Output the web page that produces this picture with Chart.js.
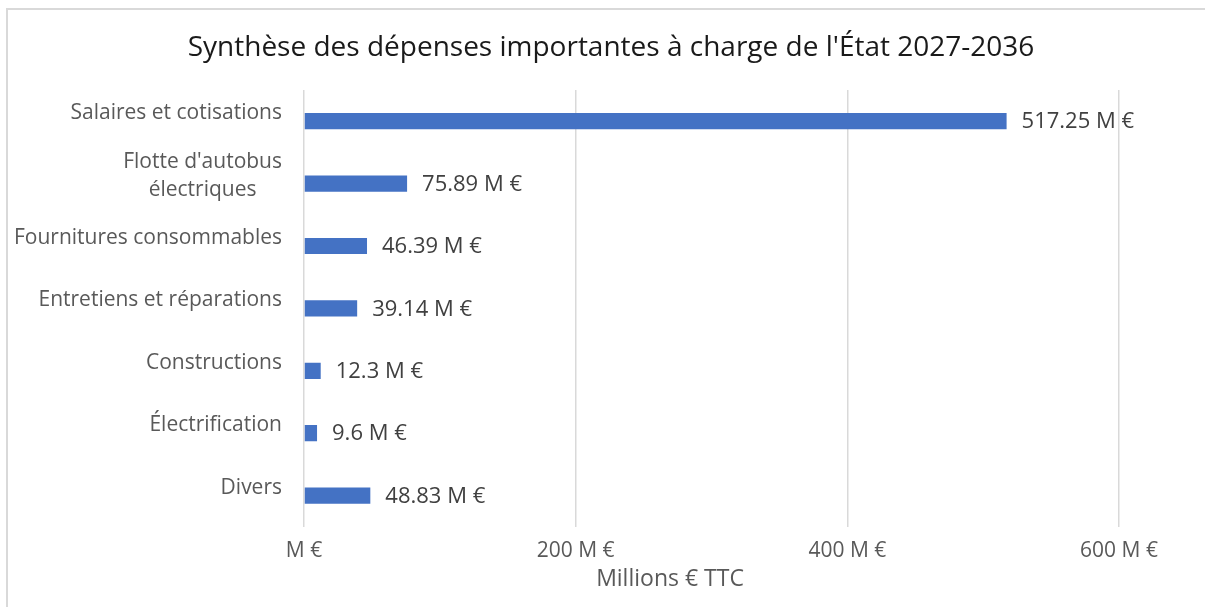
<!DOCTYPE html>
<html>
<head>
<meta charset="utf-8">
<script src="https://cdn.jsdelivr.net/npm/chart.js@4/dist/chart.umd.min.js"></script>
<style>
  html, body { margin: 0; padding: 0; background: #fff; }
  #wrap { width: 1205px; height: 607px; }
</style>
</head>
<body>
<div id="wrap"><canvas id="depensesChart" width="1205" height="607"></canvas></div>
<script>
const chartTitle = "Synthèse des dépenses importantes à charge de l'État 2027-2036";
const axisTitle = "Millions € TTC";
const categories = [
    'Salaires et cotisations',
    ["Flotte d'autobus", 'électriques'],
    'Fournitures consommables',
    'Entretiens et réparations',
    'Constructions',
    'Électrification',
    'Divers'
];
const montants = [517.25, 75.89, 46.39, 39.14, 12.3, 9.6, 48.83];
const xTicks = [0, 200, 400, 600];

const FONT = '"Open Sans", "Noto Sans", sans-serif';

// labels, title, frame drawn by hand to match the Excel look
const excelLook = {
    id: 'excelLook',
    beforeDraw(chart) {
        const ctx = chart.ctx;
        ctx.save();
        ctx.fillStyle = '#ffffff';
        ctx.fillRect(0, 0, chart.width, chart.height);
        ctx.strokeStyle = '#d9d9d9';
        ctx.lineWidth = 2;
        ctx.strokeRect(7, 9, chart.width + 10, chart.height + 10);
        ctx.restore();
    },
    afterDatasetsDraw(chart) {
        const ctx = chart.ctx;
        const area = chart.chartArea;
        const yScale = chart.scales.y;
        ctx.save();

        // title
        ctx.fillStyle = '#1a1a1a';
        ctx.font = '28px ' + FONT;
        ctx.textAlign = 'center';
        ctx.textBaseline = 'middle';
        ctx.fillText(chartTitle, 611, 48);

        // data labels
        ctx.fillStyle = '#404040';
        ctx.font = '22px ' + FONT;
        ctx.textAlign = 'left';
        chart.getDatasetMeta(0).data.forEach((bar, i) => {
            ctx.fillText(montants[i] + ' M €', bar.x + 15, bar.y + 1);
        });

        // category labels (block right aligned, lines centred)
        ctx.fillStyle = '#595959';
        ctx.font = '21px ' + FONT;
        categories.forEach((cat, i) => {
            const lines = Array.isArray(cat) ? cat : [cat];
            const w = Math.max(...lines.map(l => ctx.measureText(l).width));
            const cx = area.left - 22 - w / 2;
            const yc = yScale.getPixelForValue(i) - 8;
            ctx.textAlign = 'center';
            lines.forEach((l, k) => {
                ctx.fillText(l, cx, yc + (k - (lines.length - 1) / 2) * 28);
            });
        });

        // x axis title
        ctx.font = '23px ' + FONT;
        ctx.fillStyle = '#595959';
        ctx.textAlign = 'center';
        ctx.fillText(axisTitle, 670, 579);
        ctx.restore();
    }
};

const chart = new Chart(document.getElementById('depensesChart'), {
    type: 'bar',
    data: {
        labels: categories,
        datasets: [{
            data: montants,
            backgroundColor: '#4472c4',
            borderWidth: 0,
            categoryPercentage: 1,
            barPercentage: 0.26
        }]
    },
    options: {
        indexAxis: 'y',
        responsive: false,
        animation: false,
        layout: { padding: { left: 304, right: 86, top: 90, bottom: 31 } },
        plugins: {
            legend: { display: false },
            title: { display: false },
            tooltip: { enabled: false }
        },
        scales: {
            x: {
                min: 0,
                max: 600,
                afterBuildTicks: axis => { axis.ticks = xTicks.map(v => ({ value: v })); },
                ticks: {
                    color: '#595959',
                    font: { family: FONT, size: 21 },
                    padding: 12,
                    callback: v => v === 0 ? 'M €' : v + ' M €'
                },
                grid: { color: '#d9d9d9', lineWidth: 1.5, drawTicks: false },
                border: { display: false }
            },
            y: { display: false }
        }
    },
    plugins: [excelLook]
});
</script>
</body>
</html>
